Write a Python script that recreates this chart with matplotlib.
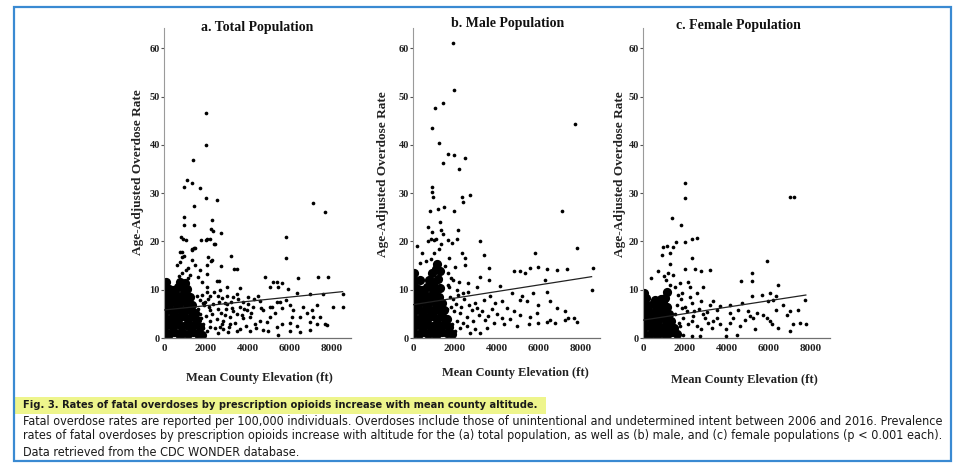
import matplotlib
matplotlib.use("Agg")
import matplotlib.pyplot as plt
from matplotlib.patches import Rectangle
from matplotlib import font_manager

# ---------------- data ----------------
panel_titles = ["a. Total Population", "b. Male Population", "c. Female Population"]
x_label = "Mean County Elevation (ft)"
y_label = "Age-Adjusted Overdose Rate"
x_ticks = [0, 2000, 4000, 6000, 8000]
y_ticks = [0, 10, 20, 30, 40, 50, 60]

caption_title = "Fig. 3. Rates of fatal overdoses by prescription opioids increase with mean county altitude."
caption_lines = [
    "Fatal overdose rates are reported per 100,000 individuals. Overdoses include those of unintentional and undetermined intent between 2006 and 2016. Prevalence",
    "rates of fatal overdoses by prescription opioids increase with altitude for the (a) total population, as well as (b) male, and (c) female populations (p < 0.001 each).",
    "Data retrieved from the CDC WONDER database.",
]

# Panel a: total population (individual counties)
a_x = [2000, 1985, 1400, 1080, 1320, 930, 1720, 1985, 2500, 1440,
       7110, 7670, 930, 960, 1440, 2290, 2700, 2250, 1770, 2050,
       2360, 820, 900, 1030, 1350, 1420, 760, 850, 5810, 5810,
       3190, 3330, 3490, 2700, 2240, 2050, 2520, 2600, 4810, 6380,
       7330, 7810, 5380, 5620, 5900, 5430, 3620, 6320, 6950, 7570,
       8520, 5050, 7270, 8050, 8510, 4490, 4570, 5050, 5360, 5600,
       5990, 6160, 6470, 6790, 6950, 7270, 7420, 7740, 5990, 6310,
       5600, 5360, 5050, 4570, 4330, 4090, 3930, 3620, 3460, 3140,
       3140, 2820, 2660, 2590, 2190, 1870, 1710, 2190, 2350, 2980,
       3300, 3780, 4020, 4250, 4730, 5120, 5520, 5830, 4090, 3460,
       3060, 4970, 5440, 5990, 6470, 6950, 7660, 5200, 2030, 1790,
       2190, 2660, 2980, 1550, 1870, 2590, 1390, 1630, 1320, 2030,
       1550, 2750, 3460, 2900, 3220, 3780, 4890, 5280, 6070, 6630,
       7030, 7110, 600, 760, 1160, 1320, 1480, 1710, 2030, 2270,
       2110, 2430, 2190, 1980, 2350, 1480, 1320, 840, 950, 1630,
       1600, 1700, 1800, 1900, 2000, 2100, 2200, 2300, 2400, 2500,
       2600, 2700, 2800, 2900, 3000, 3100, 3200, 3300, 3400, 3500,
       3600, 3700, 3800, 3900, 4000, 4150, 4300, 4400, 4600, 4700,
       1650, 1750, 1850, 1950, 2050, 2150, 2450, 2550, 2750, 2950,
       1150, 860, 1250, 700, 1050]
a_y = [46.6, 40.0, 36.8, 32.7, 32.2, 31.2, 31.0, 29.0, 28.6, 27.4,
       27.9, 26.1, 25.1, 23.4, 23.4, 24.4, 21.8, 22.5, 20.3, 20.6,
       19.5, 20.9, 20.5, 20.2, 18.4, 18.6, 17.8, 16.8, 20.9, 16.5,
       17.0, 14.3, 14.3, 14.9, 16.0, 15.2, 11.8, 11.8, 12.6, 12.5,
       12.7, 12.7, 11.5, 11.3, 10.1, 10.5, 10.3, 9.3, 9.1, 9.1,
       9.1, 10.6, 6.8, 6.5, 6.5, 8.6, 7.7, 6.5, 7.5, 6.2,
       6.8, 5.9, 4.4, 5.1, 3.4, 2.9, 4.4, 2.7, 3.1, 2.4,
       3.0, 2.3, 4.4, 3.6, 3.0, 4.3, 5.7, 6.5, 5.0, 4.3,
       3.0, 3.6, 2.3, 1.1, 2.3, 3.0, 5.0, 5.7, 7.0, 7.0,
       8.4, 7.5, 8.4, 6.5, 5.7, 6.5, 7.5, 7.9, 1.4, 1.4,
       1.3, 1.4, 0.6, 1.4, 1.3, 1.7, 2.9, 11.7, 10.6, 11.7,
       8.6, 10.0, 10.6, 8.6, 7.3, 6.0, 6.5, 3.7, 2.3, 1.4,
       0.6, 8.2, 9.2, 7.2, 6.2, 4.1, 3.4, 5.1, 4.4, 6.5,
       5.8, 4.4, 15.1, 15.8, 14.4, 16.1, 15.1, 14.1, 13.3, 16.1,
       16.8, 19.4, 20.6, 20.3, 22.1, 18.6, 18.2, 17.9, 16.9, 12.7,
       6.0, 7.8, 9.0, 6.8, 4.5, 8.0, 3.5, 5.0, 9.5, 4.0,
       7.5, 5.2, 1.8, 4.8, 8.8, 2.2, 7.5, 5.5, 3.2, 8.0,
       1.9, 4.8, 6.0, 2.5, 7.0, 5.2, 8.0, 2.1, 6.3, 1.6,
       1.5, 4.2, 2.0, 7.5, 9.5, 6.5, 2.0, 8.8, 3.0, 6.0,
       12.5, 13.5, 13.0, 12.8, 14.0]
# Panel a: dense low-elevation cluster
a_core_x = [60, 250, 480, 700, 920, 1150, 1380, 1600, 1800,
            150, 360, 590, 810, 1040, 1260, 1490, 1700,
            50, 270, 500, 720, 940, 1160, 1390, 1580,
            140, 380, 600, 830, 1050, 1270, 1470,
            40, 260, 490, 710, 930, 1150, 1350,
            130, 350, 580, 800, 1020, 1230,
            50, 230, 420, 680, 900, 1100,
            110, 750, 980]
a_core_y = [1.0, 0.8, 1.2, 0.9, 1.1, 0.8, 1.3, 0.9, 0.7,
            2.6, 2.4, 2.8, 2.5, 2.7, 2.4, 2.9, 2.2,
            4.2, 4.0, 4.4, 4.1, 4.5, 4.0, 4.6, 3.8,
            5.8, 5.6, 6.0, 5.7, 6.1, 5.5, 5.2,
            7.3, 7.1, 7.5, 7.2, 7.6, 7.0, 6.8,
            8.9, 8.6, 9.0, 8.7, 9.1, 8.5,
            10.4, 10.2, 10.0, 10.6, 10.3, 10.1,
            11.6, 11.6, 11.3]
a_trend_x = [0, 8500]
a_trend_y = [5.8, 9.6]

# Panel b: male population
b_x = [1920, 1970, 1410, 1050, 920, 7710, 1250, 1680, 1950, 2480,
       1410, 2190, 890, 890, 940, 2720, 2310, 2400, 810, 1210,
       1490, 1970, 7080, 1280, 1350, 730, 2160, 880, 730, 1000,
       1680, 1840, 2080, 3200, 3360, 2310, 2480, 2480, 5810, 7790,
       3600, 4790, 5100, 5340, 5580, 5970, 6370, 6850, 7320, 8590,
       6290, 8510, 3200, 3600, 2630, 4140, 4700, 5180, 5730, 6370,
       5100, 5420, 5970, 6530, 6850, 7240, 7640, 7790, 7240, 7400,
       6770, 6370, 6530, 5970, 5500, 4950, 5890, 5580, 5100, 4790,
       4470, 4230, 3840, 3520, 3200, 2960, 2720, 3440, 3120, 2800,
       2960, 3360, 3680, 3920, 4230, 2560, 2400, 2240, 2000, 2240,
       3040, 2400, 2080, 1920, 1680, 2000, 200, 450, 600, 350,
       1500, 1700, 1350, 1100, 1450, 900, 1800, 1900, 2100, 1700,
       1600, 1750, 1850, 1950, 2050, 2150, 2300, 2450, 2550, 2650,
       2850, 3050, 3300, 3550, 3750, 4000, 4350, 4600, 1650, 1800,
       2200, 2600, 1000, 1250, 850, 1150]
b_y = [61.0, 51.3, 48.6, 47.6, 43.4, 44.4, 40.3, 38.2, 37.9, 37.2,
       36.2, 34.9, 31.3, 30.3, 29.3, 29.6, 29.2, 28.2, 26.4, 26.8,
       27.2, 26.2, 26.3, 24.0, 22.3, 23.0, 22.3, 20.4, 20.1, 20.3,
       20.3, 19.7, 20.6, 20.0, 17.2, 17.6, 16.6, 15.2, 17.6, 18.6,
       14.5, 13.8, 13.8, 13.4, 14.5, 14.8, 14.3, 14.1, 14.3, 14.5,
       12.0, 10.0, 12.7, 12.0, 11.3, 10.7, 9.3, 8.6, 9.3, 9.6,
       7.9, 7.6, 6.8, 7.6, 6.2, 5.5, 4.1, 3.4, 3.8, 4.1,
       3.1, 3.4, 3.8, 3.1, 2.8, 2.4, 5.1, 4.4, 4.8, 5.5,
       6.2, 4.1, 3.1, 2.1, 1.1, 1.8, 1.1, 3.8, 4.8, 5.9,
       7.2, 7.9, 8.6, 7.2, 7.6, 4.4, 3.1, 2.1, 1.4, 5.2,
       10.6, 9.3, 10.0, 12.0, 13.4, 14.8, 19.0, 17.5, 16.0, 15.5,
       15.0, 16.5, 19.5, 20.5, 21.5, 22.0, 6.5, 8.0, 3.5, 10.5,
       6.0, 8.5, 3.0, 5.5, 7.0, 9.0, 6.5, 8.0, 2.5, 6.8,
       3.5, 6.3, 5.5, 4.5, 6.0, 5.0, 3.0, 4.0, 11.0, 12.5,
       11.5, 9.5, 17.5, 18.4, 16.3, 15.5]
b_core_x = [60, 280, 500, 720, 940, 1160, 1380, 1600, 1850,
            150, 380, 600, 820, 1040, 1260, 1480, 1700,
            50, 270, 500, 720, 940, 1160, 1390, 1600,
            140, 380, 600, 830, 1050, 1270, 1480,
            40, 260, 490, 710, 930, 1150, 1370,
            130, 350, 580, 800, 1020, 1230,
            50, 230, 420, 680, 900, 1100, 1300,
            110, 330, 750, 980, 1180,
            60, 900, 1100, 1300, 1150]
b_core_y = [1.0, 0.8, 1.2, 0.9, 1.1, 0.8, 1.3, 1.0, 0.8,
            2.6, 2.4, 2.8, 2.5, 2.7, 2.4, 2.9, 2.3,
            4.2, 4.0, 4.4, 4.1, 4.5, 4.0, 4.6, 4.0,
            5.8, 5.6, 6.0, 5.7, 6.1, 5.5, 5.8,
            7.3, 7.1, 7.5, 7.2, 7.6, 7.0, 7.3,
            8.9, 8.6, 9.0, 8.7, 9.1, 8.5,
            10.4, 10.2, 10.0, 10.6, 10.3, 10.1, 10.4,
            11.8, 12.1, 12.0, 11.6, 12.3,
            13.4, 13.5, 14.2, 13.8, 15.3]
b_trend_x = [0, 8500]
b_trend_y = [6.9, 12.7]

# Panel c: female population
c_x = [2000, 2000, 7020, 7210, 1400, 1810, 2320, 2560, 2000, 1560,
       1440, 970, 1130, 920, 1270, 2320, 1300, 2000, 2470, 2780,
       3190, 5890, 5200, 5200, 4650, 6440, 2870, 2140, 2220, 1760,
       1840, 2550, 2780, 3330, 3650, 4130, 4700, 5170, 5650, 6040,
       6350, 7710, 7380, 6840, 6350, 6040, 6120, 6440, 6980, 7140,
       7460, 7780, 5730, 5410, 5250, 5010, 5090, 4850, 4610, 4130,
       4290, 3970, 3500, 3650, 3270, 3110, 2950, 2780, 2550, 2390,
       2320, 2080, 1920, 1760, 1920, 2320, 2710, 3970, 4450, 5330,
       1840, 2320, 3190, 3500, 4130, 4530, 5970, 6200, 5890, 6680,
       7020, 1100, 1300, 1500, 1650, 1200, 1000, 1450, 700, 400,
       1500, 1600, 1700, 1800, 2000, 2150, 2250, 2450, 2650, 2850,
       3050, 3350, 1550, 1700]
c_y = [32.0, 29.0, 29.3, 29.3, 24.8, 23.4, 20.6, 20.8, 19.8, 19.8,
       18.8, 18.8, 19.1, 17.1, 17.5, 16.6, 15.4, 14.2, 14.2, 13.9,
       14.1, 16.0, 13.4, 11.8, 11.8, 11.0, 10.6, 11.7, 10.6, 11.3,
       9.3, 9.3, 7.6, 7.6, 6.6, 6.9, 7.2, 8.6, 8.9, 9.3,
       8.7, 7.9, 5.9, 4.8, 5.9, 3.5, 3.0, 2.1, 1.4, 2.8,
       3.1, 2.8, 4.8, 5.2, 4.1, 5.5, 4.5, 3.8, 2.4, 3.1,
       4.1, 1.8, 4.1, 2.8, 2.1, 3.1, 4.1, 1.8, 2.4, 4.5,
       3.5, 5.5, 4.1, 2.4, 0.7, 0.5, 0.4, 0.5, 0.7, 1.8,
       6.2, 7.2, 6.9, 5.9, 5.2, 5.9, 7.6, 7.9, 4.1, 6.9,
       5.5, 12.0, 11.0, 10.5, 9.0, 13.5, 12.8, 13.0, 13.8, 12.5,
       5.0, 6.8, 3.2, 8.0, 6.5, 3.0, 8.5, 5.5, 6.0, 5.0,
       5.3, 3.5, 1.5, 0.8]
c_core_x = [60, 280, 500, 720, 940, 1160, 1380, 1600,
            150, 380, 600, 820, 1040, 1260, 1480,
            50, 270, 500, 720, 940, 1160, 1350,
            140, 380, 600, 830, 1050, 1250,
            40, 260, 490, 710, 930, 1130,
            130, 560, 850, 1050,
            60, 1150]
c_core_y = [0.9, 0.7, 1.1, 0.8, 1.0, 0.7, 1.2, 0.8,
            2.4, 2.2, 2.6, 2.3, 2.5, 2.2, 2.0,
            3.9, 3.7, 4.1, 3.8, 4.2, 3.7, 3.5,
            5.4, 5.2, 5.6, 5.3, 5.7, 5.0,
            6.9, 6.7, 7.1, 6.8, 7.2, 6.5,
            8.3, 7.9, 8.0, 8.2,
            9.4, 9.6]
c_trend_x = [0, 7750]
c_trend_y = [3.7, 8.9]

# ---------------- layout ----------------
W, H = 956, 466
fig = plt.figure(figsize=(W / 100, H / 100), dpi=100)
fig.patch.set_facecolor("white")

def fx(px):
    return px / W

def fy(py):
    return 1 - py / H

serif = ["Liberation Serif", "DejaVu Serif"]

# caption font: prefer a narrow face
names = {f.name for f in font_manager.fontManager.ttflist}
cap_props = dict(family=serif)
if "Liberation Sans Narrow" in names:
    cap_props = dict(family=["Liberation Sans Narrow", "DejaVu Sans"])
else:
    path = font_manager.findfont(font_manager.FontProperties(family="DejaVu Sans", stretch="condensed"))
    if "Condensed" in path:
        cap_props = dict(family=["DejaVu Sans"], stretch="condensed")

panels = [
    dict(x=a_x, y=a_y, cx=a_core_x, cy=a_core_y, tx=a_trend_x, ty=a_trend_y,
         left=164, title_xy=(257, 28), xlab_xy=(259, 378), ylab_xy=(138, 172)),
    dict(x=b_x, y=b_y, cx=b_core_x, cy=b_core_y, tx=b_trend_x, ty=b_trend_y,
         left=413, title_xy=(508, 23), xlab_xy=(515, 373), ylab_xy=(383, 174)),
    dict(x=c_x, y=c_y, cx=c_core_x, cy=c_core_y, tx=c_trend_x, ty=c_trend_y,
         left=643, title_xy=(738, 25), xlab_xy=(744, 380), ylab_xy=(620, 174)),
]

top_px, bottom_px, width_px = 28, 338, 187
XMAX, YMAX = 8900, 64.2

for i, p in enumerate(panels):
    ax = fig.add_axes([fx(p["left"]), fy(bottom_px), width_px / W, (bottom_px - top_px) / H])
    ax.set_xlim(0, XMAX)
    ax.set_ylim(0, YMAX)
    ax.scatter(p["cx"], p["cy"], s=44, c="black", linewidths=0, clip_on=True, zorder=2)
    ax.scatter(p["x"], p["y"], s=7, c="black", linewidths=0, clip_on=False, zorder=3)
    ax.plot(p["tx"], p["ty"], color="#222222", lw=0.9, zorder=4)
    for s in ["top", "right"]:
        ax.spines[s].set_visible(False)
    ax.spines["left"].set_color("#9a9a9a")
    ax.spines["bottom"].set_color("#707070")
    ax.spines["left"].set_linewidth(0.8)
    ax.spines["bottom"].set_linewidth(0.9)
    ax.set_xticks(x_ticks)
    ax.set_yticks(y_ticks)
    ax.set_xticklabels([str(t) for t in x_ticks], family=serif, weight="bold", fontsize=8, color="#222222")
    ax.set_yticklabels([str(t) for t in y_ticks], family=serif, weight="bold", fontsize=7.5, color="#222222")
    ax.tick_params(axis="x", length=0, pad=4)
    ax.tick_params(axis="y", length=2.5, width=0.8, color="#555555", pad=0.5)
    ax.patch.set_alpha(0)
    fig.text(fx(p["title_xy"][0]), fy(p["title_xy"][1]), panel_titles[i], family=serif,
             weight="bold", fontsize=10, ha="center", va="center", color="#111111")
    fig.text(fx(p["xlab_xy"][0]), fy(p["xlab_xy"][1]), x_label, family=serif,
             weight="bold", fontsize=9, ha="center", va="center", color="#222222")
    fig.text(fx(p["ylab_xy"][0]), fy(p["ylab_xy"][1]), y_label, family=serif,
             weight="bold", fontsize=9.5, ha="center", va="center", rotation=90, color="#222222")

# caption highlight
fig.patches.append(Rectangle((fx(15), fy(414)), (546 - 15) / W, 17 / H,
                             transform=fig.transFigure, facecolor="#eef58c",
                             edgecolor="none", zorder=0))

renderer = fig.canvas.get_renderer()

def fitted_text(px, py, s, target_w, weight="normal"):
    t = fig.text(fx(px), fy(py), s, weight=weight, fontsize=9,
                 ha="left", va="center", color="#1a1a1a", zorder=3, **cap_props)
    w = t.get_window_extent(renderer).width
    t.set_fontsize(9 * target_w / w)
    return t

fitted_text(23, 405, caption_title, 517, weight="bold")
t1 = fitted_text(23, 421, caption_lines[0], 919)
t2 = fitted_text(23, 436, caption_lines[1], 919)
fig.text(fx(23), fy(452), caption_lines[2], fontsize=t1.get_fontsize(), ha="left",
         va="center", color="#1a1a1a", **cap_props)

# blue frame
fig.patches.append(Rectangle((fx(14), fy(461)), (951 - 14) / W, (461 - 7) / H,
                             transform=fig.transFigure, facecolor="none",
                             edgecolor="#3a8ad2", lw=1.6, zorder=10))

fig.savefig("out.png", dpi=100, facecolor="white")
